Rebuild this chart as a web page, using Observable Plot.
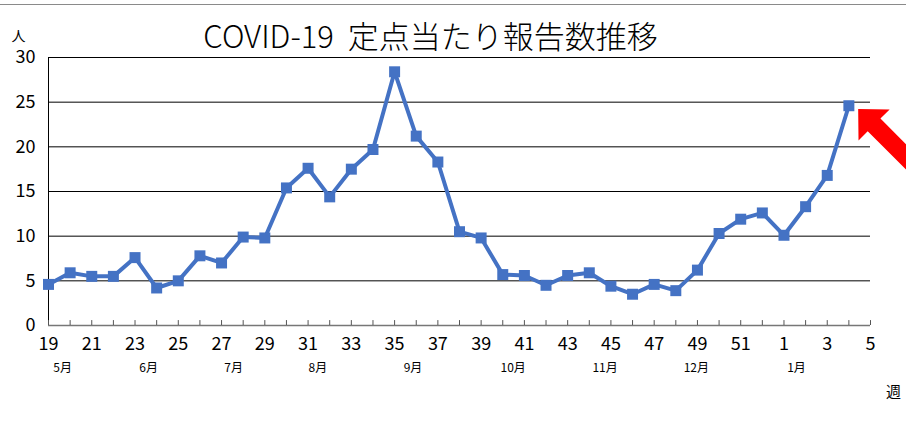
<!DOCTYPE html>
<html><head><meta charset="utf-8">
<script src="https://cdn.jsdelivr.net/npm/d3@7"></script>
<script src="https://cdn.jsdelivr.net/npm/@observablehq/plot@0.6"></script>
<style>
body{margin:0;background:#fff;}
#wrap{position:relative;width:906px;height:424px;overflow:hidden;}
#topline{position:absolute;left:0;top:4px;width:906px;height:1px;background:#8a8a8a;}
#wrap svg{position:absolute;left:0;top:0;}
</style></head><body><div id="wrap"><div id="topline"></div></div>
<script>
const title = "COVID-19  定点当たり報告数推移";
const yUnit = "人";
const xUnit = "週";
const weekLabels = ["19","20","21","22","23","24","25","26","27","28","29","30","31","32","33","34","35","36","37","38","39","40","41","42","43","44","45","46","47","48","49","50","51","52","1","2","3","4","5"];
const values = [4.6,5.9,5.5,5.5,7.6,4.2,5.0,7.8,7.0,9.9,9.8,15.4,17.6,14.4,17.5,19.7,28.4,21.2,18.3,10.5,9.8,5.7,5.6,4.5,5.6,5.9,4.4,3.5,4.6,3.9,6.2,10.3,11.9,12.6,10.1,13.3,16.8,24.6];
const yTicks = [0,5,10,15,20,25,30];
const monthLabels = ["5月","6月","7月","8月","9月","10月","11月","12月","1月"];
const monthPos = [0.65,4.63,8.56,12.45,16.85,21.48,25.73,29.95,34.58];

const table = values.map((v,i)=>({i, week: weekLabels[i], v}));
const font = "'Noto Sans CJK JP', 'Noto Sans', sans-serif";

const chart = Plot.plot({
  width: 906, height: 424,
  marginTop: 57, marginBottom: 99, marginLeft: 48, marginRight: 36,
  style: {fontFamily: font, background: "transparent", color: "#000"},
  x: {domain: [0, weekLabels.length - 1]},
  y: {domain: [0, 30]},
  marks: [
    Plot.ruleY(yTicks.filter(d => d > 0), {stroke: "#000", strokeWidth: 1}),
    Plot.ruleY([0], {stroke: "#777", strokeWidth: 1.5}),
    Plot.ruleX([0], {stroke: "#000"}),
    Plot.ruleX(d3.range(weekLabels.length), {x: d => d, y1: 0, y2: 0.55, stroke: "#555"}),
    Plot.axisY({ticks: yTicks, tickSize: 0, tickPadding: 13, fontSize: 18, label: null}),
    Plot.axisX({ticks: d3.range(0, weekLabels.length, 2), tickFormat: i => weekLabels[i], tickSize: 0, tickPadding: 12, fontSize: 18, label: null}),
    Plot.line(table, {x: "i", y: "v", stroke: "#4472C4", strokeWidth: 4}),
    Plot.dot(table, {x: "i", y: "v", symbol: "square", r: 6.2, fill: "#4472C4", stroke: "none"}),
    Plot.text(monthLabels, {x: (d, i) => monthPos[i], y: () => 0, dy: 43, fontSize: 12, textAnchor: "middle", lineAnchor: "middle"}),
    Plot.text([yUnit], {frameAnchor: "top-left", dx: -30, dy: -21, fontSize: 14, textAnchor: "middle", lineAnchor: "middle"}),
    Plot.text([xUnit], {frameAnchor: "bottom-right", dx: 23, dy: 67, fontSize: 15, textAnchor: "middle", lineAnchor: "middle"}),
    Plot.text([title], {frameAnchor: "top", dx: -29, dy: -19, fontSize: 31, fontWeight: 300, textAnchor: "middle", lineAnchor: "middle"})
  ]
});

const sx = chart.scale("x"), sy = chart.scale("y");
const last = table[table.length - 1];
const px = sx.apply(last.i), py = sy.apply(last.v);
d3.select(chart).append("path")
  .attr("d", "M0,0 L22.5,-22 L22.5,-9 L95,-9 L95,9 L22.5,9 L22.5,22 Z")
  .attr("transform", `translate(${px + 9.8},${py + 3.8}) rotate(45)`)
  .attr("fill", "#ff0000");

document.getElementById("wrap").appendChild(chart);
</script></body></html>
